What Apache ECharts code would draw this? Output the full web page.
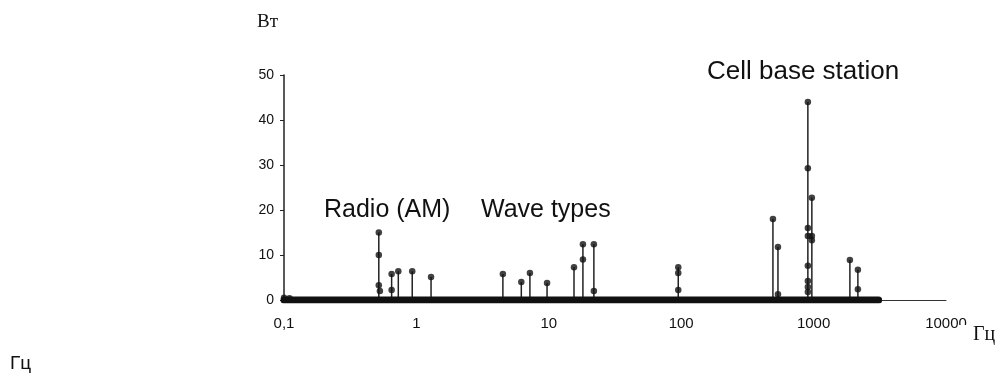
<!DOCTYPE html>
<html>
<head>
    <meta charset="utf-8">
    <title>Spectrum</title>
    <script src="https://cdn.jsdelivr.net/npm/echarts@6/dist/echarts.min.js"></script>
</head>
<style>
    html, body { margin: 0; padding: 0; background: #fff; }
    #main { width: 996px; height: 374px; }
</style>
<body>
<div id="main"></div>
<script>
    // stems: frequency and top value
    var stemFreq = [0.52, 0.65, 0.73, 0.93, 1.29, 4.5, 6.2, 7.2, 9.7, 15.5, 18.1, 21.9, 95, 493, 538, 905, 970, 1880, 2160];
    var stemTop  = [15,   5.8,  6.4,  6.4,  5.1,  5.8, 4,   6,   3.8, 7.3,  12.4, 12.4, 7.3, 18, 11.8, 44, 22.7, 8.9, 6.7];
    // extra dots along the stems
    var dotFreq = [0.52, 0.52, 0.53, 0.65, 18.1, 21.9, 95, 95, 538, 905, 905, 905, 905, 905, 905, 905, 970, 970, 2160, 0.1, 0.11];
    var dotVal  = [10,   3.3,  2,    2.2,  9,    2,    6,  2.2, 1.3, 29.3, 16, 14.2, 7.6, 4.2, 2.9, 1.8, 13.3, 14.2, 2.4, 0.5, 0.4];
    // thick baseline band
    var bandFreq = [0.1, 3100];
    var xTicks = [0.1, 1, 10, 100, 1000, 10000];
    var yTicks = [0, 10, 20, 30, 40, 50];

    var stems = [], dots = [];
    for (var i = 0; i < stemFreq.length; i++) {
        stems.push([stemFreq[i], stemTop[i]]);
        dots.push([stemFreq[i], stemTop[i]]);
    }
    for (var j = 0; j < dotFreq.length; j++) {
        dots.push([dotFreq[j], dotVal[j]]);
    }

    var myChart = echarts.init(document.getElementById('main'));
    var option = {
        backgroundColor: '#fff',
        animation: false,
        grid: {left: 284, right: 50, top: 75, bottom: 74},
        xAxis: {
            type: 'log', logBase: 10, min: xTicks[0], max: xTicks[xTicks.length - 1],
            axisLine: {lineStyle: {color: '#333', width: 1}},
            axisTick: {show: false},
            splitLine: {show: false},
            minorTick: {show: false},
            axisLabel: {
                color: '#111', fontSize: 15, fontFamily: 'Liberation Sans, Arial', margin: 16,
                formatter: function (v) { return String(v).replace('.', ','); }
            }
        },
        yAxis: {
            type: 'value', min: yTicks[0], max: yTicks[yTicks.length - 1], interval: 10,
            axisLine: {show: true, lineStyle: {color: '#222', width: 1.5}},
            axisTick: {show: true, length: 4, lineStyle: {color: '#222'}},
            splitLine: {show: false},
            axisLabel: {color: '#111', fontSize: 14, fontFamily: 'Liberation Sans, Arial', margin: 10}
        },
        series: [
            {
                type: 'line', data: [[bandFreq[0], 0], [bandFreq[1], 0]],
                symbol: 'none', silent: true,
                lineStyle: {color: '#111', width: 7, cap: 'round'}
            },
            {
                type: 'custom', data: stems, silent: true,
                renderItem: function (params, api) {
                    var p0 = api.coord([api.value(0), 0]);
                    var p1 = api.coord([api.value(0), api.value(1)]);
                    return {type: 'line', shape: {x1: p0[0], y1: p0[1], x2: p1[0], y2: p1[1]},
                        style: {stroke: '#222', lineWidth: 1.5}};
                }
            },
            {
                type: 'scatter', data: dots, symbolSize: 6.5, silent: true,
                itemStyle: {color: '#111'}
            }
        ],
        graphic: [
            {type: 'text', x: 257, y: 22, style: {text: 'Вт', font: '19px "Liberation Serif", "DejaVu Serif"', fill: '#111', verticalAlign: 'middle'}},
            {type: 'text', x: 959, y: 335, z: 100, style: {text: 'Гц', font: '20px "Liberation Serif", "DejaVu Serif"', fill: '#111', verticalAlign: 'middle', backgroundColor: '#fff', padding: [0, 2, 0, 14]}},
            {type: 'text', x: 10, y: 364, style: {text: 'Гц', font: '19px "Liberation Sans", Arial', fill: '#111', verticalAlign: 'middle'}},
            {type: 'text', x: 324, y: 210, style: {text: 'Radio (AM)', font: '25px "Liberation Sans", Arial', fill: '#111', verticalAlign: 'middle'}},
            {type: 'text', x: 481, y: 210, style: {text: 'Wave types', font: '25px "Liberation Sans", Arial', fill: '#111', verticalAlign: 'middle'}},
            {type: 'text', x: 707, y: 72, style: {text: 'Cell base station', font: '26px "Liberation Sans", Arial', fill: '#111', verticalAlign: 'middle'}}
        ]
    };
    myChart.setOption(option);
</script>
</body>
</html>
